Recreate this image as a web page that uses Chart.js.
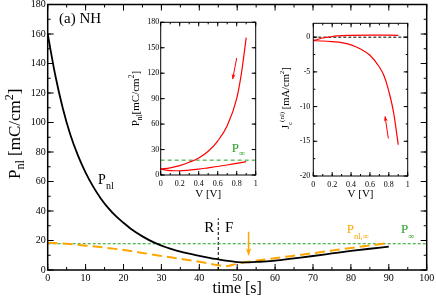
<!DOCTYPE html>
<html>
<head>
<meta charset="utf-8">
<script src="https://cdn.jsdelivr.net/npm/chart.js@4.4.1/dist/chart.umd.min.js"></script>
<style>
  body { margin: 0; background: #fff; }
  #wrap { position: relative; width: 436px; height: 300px; }
  #wrap canvas { position: absolute; }
</style>
</head>
<body>
<div id="wrap">
  <canvas id="main" width="436" height="300" style="left:0;top:0"></canvas>
  <canvas id="inset1" width="146" height="186" style="left:116px;top:16px"></canvas>
  <canvas id="inset2" width="148" height="186" style="left:266px;top:16px"></canvas>
</div>
<script>
// --- main panel: P_nl against time ---
const pnlTime   = [0, 2, 4, 6, 8, 10, 12, 14, 16, 18, 20, 22, 25, 28, 31, 34, 37, 40, 43, 45, 47, 50, 53, 56, 60, 65, 70, 75, 80, 85, 90];
const pnlValues = [160, 132, 109.5, 91.5, 77.5, 66, 56.5, 48.5, 42, 36.5, 32, 27.8, 22.8, 18.7, 15.6, 13.2, 11.2, 9.6, 8.1, 7.2, 6.3, 5.4, 5.2, 5.6, 6.3, 7.9, 9.5, 11.2, 12.9, 14.4, 15.8];
const pnlInfTime   = [0, 5, 10, 15, 20, 25, 30, 35, 40, 45, 47, 50, 53, 60, 70, 80, 90];
const pnlInfValues = [18.5, 17.8, 16.5, 15.2, 13.6, 11.6, 9.5, 7.6, 5.6, 3.2, 2.6, 4.2, 5.6, 8.0, 11.4, 14.9, 18.3];
const pInfTime   = [0, 100];
const pInfValues = [17.8, 17.8];
const switchTime   = [45, 45];
const switchValues = [0, 35];
const arrowTime   = [53, 53];
const arrowValues = [26, 10];

// --- inset 1: P_nl against V ---
const vUp  = [0, 0.1, 0.2, 0.3, 0.4, 0.5, 0.6, 0.7, 0.8, 0.85, 0.9];
const pUp  = [7, 8.5, 11, 15, 20, 28, 40, 58, 90, 120, 162];
const vDown = [0, 0.1, 0.2, 0.3, 0.4, 0.5, 0.6, 0.7, 0.8, 0.9];
const pDown = [7, 5.2, 5, 5.8, 7, 8.5, 10, 11.8, 13.8, 15.8];
const inset1InfV = [0, 1];
const inset1InfP = [17.5, 17.5];
const inset1ArrowV = [0.8, 0.758];
const inset1ArrowP = [138, 113];

// --- inset 2: J_c(nl) against V ---
const jvUp   = [0, 0.05, 0.1, 0.16, 0.25, 0.4, 0.6, 0.9];
const jUp    = [-0.5, -0.3, -0.12, 0, 0.18, 0.27, 0.3, 0.27];
const jvDown = [0, 0.1, 0.2, 0.3, 0.4, 0.5, 0.6, 0.7, 0.75, 0.8, 0.85, 0.9];
const jDown  = [-0.5, -0.55, -0.65, -0.78, -1.1, -1.7, -2.6, -4.3, -5.6, -7.8, -10.8, -15.5];
const zeroV = [0, 1];
const zeroJ = [0, 0];
const inset2ArrowV = [0.795, 0.76];
const inset2ArrowJ = [-14.6, -11.4];

const SERIF = "'Liberation Serif', 'Times New Roman', serif";
const ORANGE = '#ffa500';
const GREEN = '#20a020';
const RED = '#ff0000';

Chart.defaults.font.family = SERIF;
Chart.defaults.color = '#000';

const pairs = (xs, ys) => xs.map((x, i) => ({ x, y: ys[i] }));

// text with sub/superscripts: parts = [text, size, shift(+ down)]
function rich(ctx, parts, x, y, color, align, rotate) {
  ctx.save();
  ctx.translate(x, y);
  if (rotate) ctx.rotate(-Math.PI / 2);
  ctx.fillStyle = color;
  ctx.textAlign = 'left';
  ctx.textBaseline = 'alphabetic';
  let w = 0;
  parts.forEach(p => { ctx.font = p[1] + 'px ' + SERIF; w += ctx.measureText(p[0]).width; });
  let cx = align === 'center' ? -w / 2 : 0;
  parts.forEach(p => {
    ctx.font = p[1] + 'px ' + SERIF;
    ctx.fillText(p[0], cx, p[2] || 0);
    cx += ctx.measureText(p[0]).width;
  });
  ctx.restore();
}

// box + inward ticks on all four sides
const frameTicks = {
  id: 'frameTicks',
  afterDatasetsDraw(chart, args, o) {
    const { ctx, chartArea: a, scales } = chart;
    ctx.save();
    ctx.strokeStyle = '#000';
    ctx.lineWidth = o.width;
    ctx.strokeRect(a.left, a.top, a.right - a.left, a.bottom - a.top);
    ctx.lineWidth = 1;
    ctx.beginPath();
    const each = (scale, step, fn) => {
      const n0 = Math.ceil(scale.min / step - 1e-6), n1 = Math.floor(scale.max / step + 1e-6);
      for (let n = n0; n <= n1; n++) fn(scale.getPixelForValue(n * step));
    };
    [[o.x[0], o.len[0]], [o.x[1], o.len[1]]].forEach(([step, len]) => each(scales.x, step, px => {
      ctx.moveTo(px, a.bottom); ctx.lineTo(px, a.bottom - len);
      ctx.moveTo(px, a.top); ctx.lineTo(px, a.top + len);
    }));
    [[o.y[0], o.len[0]], [o.y[1], o.len[1]]].forEach(([step, len]) => each(scales.y, step, py => {
      ctx.moveTo(a.left, py); ctx.lineTo(a.left + len, py);
      ctx.moveTo(a.right, py); ctx.lineTo(a.right - len, py);
    }));
    ctx.stroke();
    ctx.restore();
  }
};

// arrow heads at the last point of datasets flagged with `arrow`
const arrowHeads = {
  id: 'arrowHeads',
  afterDatasetsDraw(chart) {
    const ctx = chart.ctx;
    chart.data.datasets.forEach((ds, i) => {
      if (!ds.arrow) return;
      const pts = chart.getDatasetMeta(i).data;
      const p = pts[pts.length - 1], q = pts[pts.length - 2];
      const ang = Math.atan2(p.y - q.y, p.x - q.x);
      const L = ds.arrow[0], W = ds.arrow[1];
      ctx.save();
      ctx.fillStyle = ds.borderColor;
      ctx.translate(p.x, p.y);
      ctx.rotate(ang);
      ctx.beginPath();
      ctx.moveTo(0, 0); ctx.lineTo(-L, -W); ctx.lineTo(-L * 0.7, 0); ctx.lineTo(-L, W);
      ctx.closePath();
      ctx.fill();
      ctx.restore();
    });
  }
};

// annotations and axis titles
const notes = {
  id: 'notes',
  afterDraw(chart, args, o) {
    const { ctx, chartArea: a, scales: { x, y } } = chart;
    (o.items || []).forEach(it =>
      rich(ctx, it.parts, x.getPixelForValue(it.x), y.getPixelForValue(it.y), it.color || '#000', 'left', false));
    if (o.xTitle) rich(ctx, o.xTitle.parts, (a.left + a.right) / 2, a.bottom + o.xTitle.dy, '#000', 'center', false);
    if (o.yTitle) rich(ctx, o.yTitle.parts, o.yTitle.x, (a.top + a.bottom) / 2 + (o.yTitle.dy || 0), '#000', 'center', true);
  }
};

Chart.register(frameTicks, arrowHeads, notes);

const shortNum = v => String(Math.round(v * 10) / 10);

function axes(xr, yr, tickSize, fit) {
  return {
    x: {
      type: 'linear', min: xr[0], max: xr[1],
      grid: { display: false, drawTicks: false }, border: { display: false },
      ticks: { stepSize: xr[2], padding: fit.xPad, maxRotation: 0, autoSkip: false, font: { size: tickSize }, callback: shortNum },
      afterFit: s => { s.height = fit.h; s.paddingLeft = 0; s.paddingRight = 0; }
    },
    y: {
      type: 'linear', min: yr[0], max: yr[1],
      grid: { display: false, drawTicks: false }, border: { display: false },
      ticks: { stepSize: yr[2], padding: fit.yPad, includeBounds: false, autoSkip: false, font: { size: tickSize }, callback: shortNum },
      afterFit: s => { s.width = fit.w; s.paddingTop = 0; s.paddingBottom = 0; }
    }
  };
}

const base = {
  responsive: false,
  animation: false,
  devicePixelRatio: 1,
  elements: { point: { radius: 0 }, line: { borderCapStyle: 'butt' } }
};

// --- main chart ---
new Chart(document.getElementById('main'), {
  type: 'line',
  data: {
    datasets: [
      { data: pairs(arrowTime, arrowValues), borderColor: ORANGE, borderWidth: 1.5, arrow: [7, 2.8] },
      { data: pairs(pnlTime, pnlValues), borderColor: '#000', borderWidth: 1.8, cubicInterpolationMode: 'monotone' },
      { data: pairs(pnlInfTime, pnlInfValues), borderColor: ORANGE, borderWidth: 2, borderDash: [10, 5], cubicInterpolationMode: 'monotone' },
      { data: pairs(pInfTime, pInfValues), borderColor: GREEN, borderWidth: 1, borderDash: [3, 2] },
      { data: pairs(switchTime, switchValues), borderColor: '#000', borderWidth: 1, borderDash: [3, 2] }
    ]
  },
  options: {
    ...base,
    layout: { padding: { top: 4.5, right: 9.3, left: 0, bottom: 0 } },
    scales: axes([0, 100, 10], [0, 180, 20], 10, { h: 30, w: 47.7, xPad: 2, yPad: 2 }),
    plugins: {
      legend: { display: false }, tooltip: { enabled: false },
      frameTicks: { width: 1.5, x: [10, 5], y: [20, 10], len: [6, 3] },
      notes: {
        items: [
          { x: 3.0, y: 167.3, parts: [['(a) NH', 15, 0]] },
          { x: 13.3, y: 58.6, parts: [['P', 14, 0], ['nl', 10, 5]] },
          { x: 41.3, y: 25.8, parts: [['R', 15, 0]] },
          { x: 46.8, y: 25.8, parts: [['F', 15, 0]] },
          { x: 78.9, y: 24.9, color: ORANGE, parts: [['P', 13, 0], ['nl,\u221e', 8.5, 5.5]] },
          { x: 93.2, y: 24.9, color: GREEN, parts: [['P', 13, 0], ['\u221e', 8.5, 5.5]] }
        ],
        xTitle: { dy: 23, parts: [['time [s]', 16, 0]] },
        yTitle: { x: 19.5, dy: -3.5, parts: [['P', 17, 0], ['nl', 12, 4], [' [mC/cm', 17, 0], ['2', 12, -7], [']', 17, 0]] }
      }
    }
  }
});

// --- inset 1 ---
new Chart(document.getElementById('inset1'), {
  type: 'line',
  data: {
    datasets: [
      { data: pairs(vUp, pUp), borderColor: RED, borderWidth: 1.2, cubicInterpolationMode: 'monotone' },
      { data: pairs(vDown, pDown), borderColor: RED, borderWidth: 1.2, cubicInterpolationMode: 'monotone' },
      { data: pairs(inset1InfV, inset1InfP), borderColor: GREEN, borderWidth: 1, borderDash: [4, 3] },
      { data: pairs(inset1ArrowV, inset1ArrowP), borderColor: RED, borderWidth: 1, arrow: [5, 2] }
    ]
  },
  options: {
    ...base,
    layout: { padding: { top: 6.3, right: 6.3, left: 0, bottom: 0 } },
    scales: axes([0, 1, 0.2], [0, 180, 30], 8, { h: 27, w: 44.7, xPad: 4, yPad: 1.5 }),
    plugins: {
      legend: { display: false }, tooltip: { enabled: false },
      frameTicks: { width: 1, x: [0.2, 0.1], y: [30, 30], len: [4, 2] },
      notes: {
        items: [
          { x: 0.747, y: 27.5, color: GREEN, parts: [['P', 13, 0], ['\u221e', 8.5, 4]] }
        ],
        xTitle: { dy: 22, parts: [['V [V]', 11, 0]] },
        yTitle: { x: 22.5, parts: [['P', 11, 0], ['nl', 7.5, 3], ['[mC/cm', 11, 0], ['2', 7.5, -5], [']', 11, 0]] }
      }
    }
  }
});

// --- inset 2 ---
new Chart(document.getElementById('inset2'), {
  type: 'line',
  data: {
    datasets: [
      { data: pairs(jvUp, jUp), borderColor: RED, borderWidth: 1.2, cubicInterpolationMode: 'monotone' },
      { data: pairs(jvDown, jDown), borderColor: RED, borderWidth: 1.2, cubicInterpolationMode: 'monotone' },
      { data: pairs(zeroV, zeroJ), borderColor: '#000', borderWidth: 1, borderDash: [3, 2] },
      { data: pairs(inset2ArrowV, inset2ArrowJ), borderColor: RED, borderWidth: 1, arrow: [5, 2] }
    ]
  },
  options: {
    ...base,
    layout: { padding: { top: 7.3, right: 6.3, left: 0, bottom: 0 } },
    scales: axes([0, 1, 0.2], [-20, 2, 5], 8, { h: 26, w: 47.3, xPad: 4, yPad: 3 }),
    plugins: {
      legend: { display: false }, tooltip: { enabled: false },
      frameTicks: { width: 1, x: [0.2, 0.1], y: [5, 2.5], len: [4, 2] },
      notes: {
        xTitle: { dy: 21, parts: [['V [V]', 11, 0]] },
        yTitle: { x: 23, dy: -1.5, parts: [['J', 10.5, 0], ['c', 7, 3], ['(nl)', 7, -5], [' [mA/cm', 10.5, 0], ['2', 7, -5], [']', 10.5, 0]] }
      }
    }
  }
});
</script>
</body>
</html>
